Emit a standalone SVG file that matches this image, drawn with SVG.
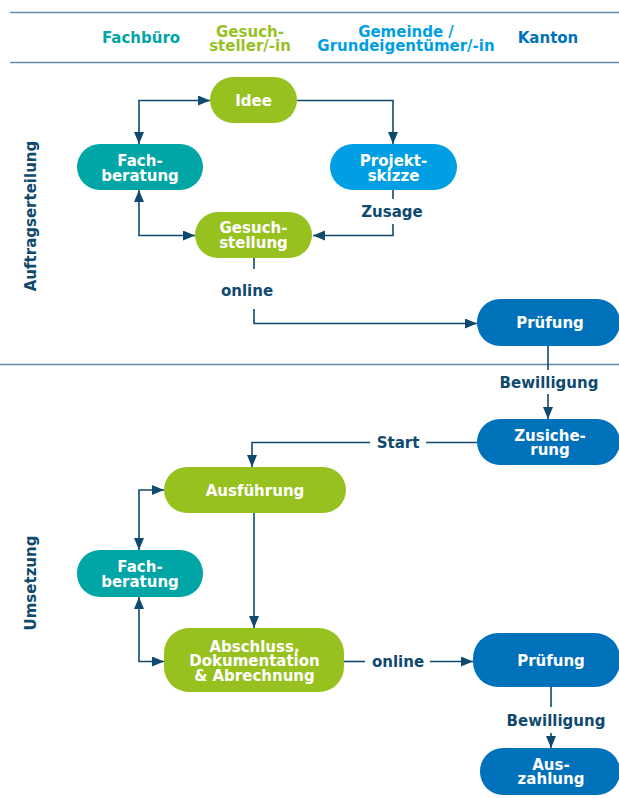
<svg xmlns="http://www.w3.org/2000/svg" width="619" height="798" viewBox="0 0 619 798">
<style>
text{font-family:"DejaVu Sans","Liberation Sans",sans-serif;font-weight:bold;font-size:15px;text-anchor:middle}
.nt{fill:#fff}
.lb{fill:#0f4a6e}
.sep{stroke:#5f8cab;stroke-width:1.6;fill:none}
.c{stroke:#0f4a6e;stroke-width:1.6;fill:none}
.teal{fill:#00a5a5}
.green{fill:#97c11f}
.lblue{fill:#009fe3}
.dblue{fill:#0071bb}
</style>
<defs>
<marker id="ah" markerUnits="userSpaceOnUse" markerWidth="13" markerHeight="11" refX="12" refY="5" orient="auto-start-reverse">
<path d="M0,0 L12,5 L0,10 z" fill="#0f4a6e"/>
</marker>
</defs>
<g id="frame">
<line class="sep" x1="10" y1="12.5" x2="619" y2="12.5"/>
<line class="sep" x1="10" y1="62.5" x2="619" y2="62.5"/>
<line class="sep" x1="0" y1="364.5" x2="619" y2="364.5"/>
</g>
<g id="headers">
<text x="141" y="43" class="teal">Fachbüro</text>
<text x="250" y="36.5" class="green">Gesuch-</text>
<text x="250" y="50.5" class="green">steller/-in</text>
<text x="406" y="36.5" class="lblue">Gemeinde /</text>
<text x="406" y="50.5" class="lblue">Grundeigentümer/-in</text>
<text x="548" y="43" class="dblue">Kanton</text>
<text class="lb" transform="translate(35.5,216) rotate(-90)">Auftragserteilung</text>
<text class="lb" transform="translate(35.5,583) rotate(-90)">Umsetzung</text>
</g>
<g id="connectors">
<path class="c" d="M297,100.5 H393 V144" marker-end="url(#ah)"/>
<path class="c" d="M139,144 V100.5 H210" marker-start="url(#ah)" marker-end="url(#ah)"/>
<path class="c" d="M139,190 V235.5 H195" marker-start="url(#ah)" marker-end="url(#ah)"/>
<path class="c" d="M393,190 V199"/>
<path class="c" d="M393,224 V235.5 H313" marker-end="url(#ah)"/>
<path class="c" d="M254,258 V269"/>
<path class="c" d="M254,309 V323.5 H477" marker-end="url(#ah)"/>
<path class="c" d="M548,346 V370"/>
<path class="c" d="M548,394 V419" marker-end="url(#ah)"/>
<path class="c" d="M477,442.5 H426"/>
<path class="c" d="M370,442.5 H252 V467" marker-end="url(#ah)"/>
<path class="c" d="M139,550 V490 H164" marker-start="url(#ah)" marker-end="url(#ah)"/>
<path class="c" d="M139,597 V661.5 H164" marker-start="url(#ah)" marker-end="url(#ah)"/>
<path class="c" d="M254,513 V628" marker-end="url(#ah)"/>
<path class="c" d="M344,661.5 H365"/>
<path class="c" d="M430,661.5 H473" marker-end="url(#ah)"/>
<path class="c" d="M551,687 V707"/>
<path class="c" d="M551,733 V748" marker-end="url(#ah)"/>
<text class="lb" x="392" y="217">Zusage</text>
<text class="lb" x="247" y="296">online</text>
<text class="lb" x="549" y="388">Bewilligung</text>
<text class="lb" x="398" y="448">Start</text>
<text class="lb" x="398" y="667">online</text>
<text class="lb" x="556" y="726">Bewilligung</text>
</g>
<g id="idee">
<rect x="210" y="77" width="87" height="46" rx="23" class="green"/>
<text class="nt" x="253.5" y="106">Idee</text>
</g>
<g id="fachberatung1">
<rect x="77" y="144" width="126" height="46" rx="23" class="teal"/>
<text class="nt" x="140" y="166">Fach-</text>
<text class="nt" x="140" y="180.5">beratung</text>
</g>
<g id="projektskizze">
<rect x="330" y="144" width="127" height="46" rx="23" class="lblue"/>
<text class="nt" x="393.5" y="166">Projekt-</text>
<text class="nt" x="393.5" y="180.5">skizze</text>
</g>
<g id="gesuchstellung">
<rect x="195" y="212" width="117" height="46" rx="23" class="green"/>
<text class="nt" x="253.5" y="233">Gesuch-</text>
<text class="nt" x="253.5" y="247.5">stellung</text>
</g>
<g id="pruefung1">
<rect x="477" y="299" width="143" height="47" rx="23" class="dblue"/>
<text class="nt" x="550" y="328">Prüfung</text>
</g>
<g id="zusicherung">
<rect x="477" y="419" width="143" height="46" rx="23" class="dblue"/>
<text class="nt" x="550" y="441">Zusiche-</text>
<text class="nt" x="550" y="455">rung</text>
</g>
<g id="ausfuehrung">
<rect x="164" y="467" width="182" height="46" rx="23" class="green"/>
<text class="nt" x="255" y="496">Ausführung</text>
</g>
<g id="fachberatung2">
<rect x="77" y="550" width="126" height="47" rx="23" class="teal"/>
<text class="nt" x="140" y="572">Fach-</text>
<text class="nt" x="140" y="586.5">beratung</text>
</g>
<g id="abschluss">
<rect x="164" y="628" width="180" height="64" rx="25" class="green"/>
<text class="nt" x="254.5" y="651.5">Abschluss,</text>
<text class="nt" x="254.5" y="666">Dokumentation</text>
<text class="nt" x="254.5" y="681">&amp; Abrechnung</text>
</g>
<g id="pruefung2">
<rect x="473" y="633" width="147" height="54" rx="25" class="dblue"/>
<text class="nt" x="551" y="666">Prüfung</text>
</g>
<g id="auszahlung">
<rect x="480" y="748" width="140" height="47" rx="23" class="dblue"/>
<text class="nt" x="551" y="769.5">Aus-</text>
<text class="nt" x="551" y="784">zahlung</text>
</g>
</svg>
